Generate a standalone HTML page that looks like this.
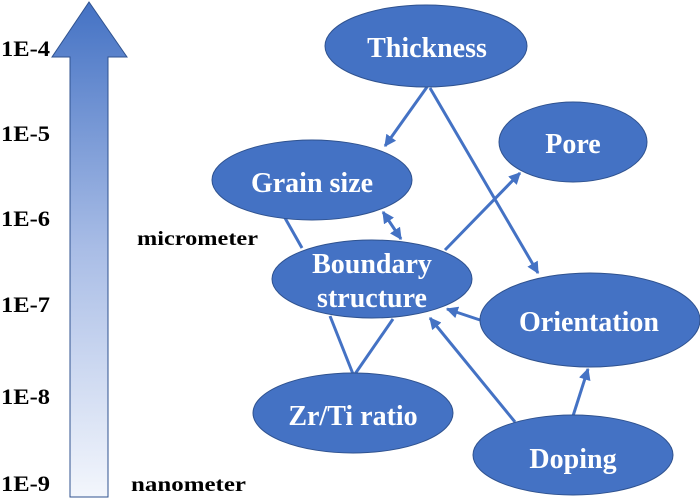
<!DOCTYPE html>
<html><head><meta charset="utf-8"><style>
html,body{margin:0;padding:0;background:#fff;}
svg{display:block;}
text{font-family:"Liberation Serif",serif;font-weight:bold;}
</style></head><body>
<svg width="700" height="503" viewBox="0 0 700 503" xmlns="http://www.w3.org/2000/svg">
<defs>
<linearGradient id="g" x1="0" y1="0" x2="0" y2="1">
<stop offset="0" stop-color="#4472c4"/>
<stop offset="0.5" stop-color="#a9bde6"/>
<stop offset="1" stop-color="#f3f6fc"/>
</linearGradient>
<marker id="a" viewBox="0 0 10 10" refX="9" refY="5" markerWidth="4" markerHeight="4" orient="auto-start-reverse">
<path d="M0,0 L10,5 L0,10 z" fill="#4472c4"/>
</marker>
</defs>
<path d="M89,2 L127,57 L108,57 L108,497 L70,497 L70,57 L52,57 Z" fill="url(#g)" stroke="#2f528f" stroke-width="1"/>
<g font-size="22" fill="#000">
<text x="1" y="56" textLength="49" lengthAdjust="spacingAndGlyphs">1E-4</text>
<text x="1" y="141" textLength="49" lengthAdjust="spacingAndGlyphs">1E-5</text>
<text x="1" y="226" textLength="49" lengthAdjust="spacingAndGlyphs">1E-6</text>
<text x="1" y="312" textLength="49" lengthAdjust="spacingAndGlyphs">1E-7</text>
<text x="1" y="404" textLength="49" lengthAdjust="spacingAndGlyphs">1E-8</text>
<text x="1" y="491" textLength="49" lengthAdjust="spacingAndGlyphs">1E-9</text>
<text x="137" y="245" font-size="20" textLength="121" lengthAdjust="spacingAndGlyphs">micrometer</text>
<text x="131" y="491" font-size="20" textLength="115" lengthAdjust="spacingAndGlyphs">nanometer</text>
</g>
<g stroke="#4472c4" stroke-width="3" fill="none">
<line x1="427" y1="87" x2="385" y2="146" marker-end="url(#a)"/>
<line x1="430" y1="88" x2="538" y2="273" marker-end="url(#a)"/>
<line x1="445" y1="250" x2="520" y2="173" marker-end="url(#a)"/>
<line x1="383" y1="212" x2="401" y2="239" marker-start="url(#a)" marker-end="url(#a)"/>
<line x1="285" y1="218" x2="302" y2="248"/>
<line x1="330" y1="316" x2="353" y2="374"/>
<line x1="393" y1="319" x2="355" y2="374"/>
<line x1="480" y1="320" x2="447" y2="309" marker-end="url(#a)"/>
<line x1="515" y1="422" x2="430" y2="318" marker-end="url(#a)"/>
<line x1="573" y1="416" x2="588" y2="369" marker-end="url(#a)"/>
</g>
<g fill="#4472c4" stroke="#2f528f" stroke-width="1">
<ellipse cx="426" cy="46" rx="101" ry="41"/>
<ellipse cx="312" cy="180" rx="100" ry="40"/>
<ellipse cx="573" cy="142" rx="74" ry="40"/>
<ellipse cx="372" cy="279" rx="100" ry="39"/>
<ellipse cx="590" cy="320" rx="110" ry="47"/>
<ellipse cx="353" cy="413" rx="100" ry="40"/>
<ellipse cx="573" cy="455" rx="100" ry="40"/>
</g>
<g fill="#fff" font-size="28" text-anchor="middle">
<text x="427" y="57">Thickness</text>
<text x="312" y="192">Grain size</text>
<text x="573" y="153">Pore</text>
<text x="372" y="273">Boundary</text>
<text x="372" y="307">structure</text>
<text x="589" y="331">Orientation</text>
<text x="353" y="425">Zr/Ti ratio</text>
<text x="573" y="468">Doping</text>
</g>
</svg>
</body></html>
